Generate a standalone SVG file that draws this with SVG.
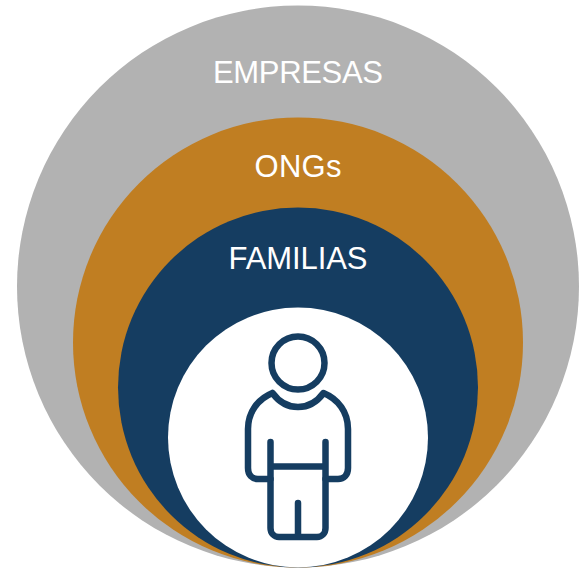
<svg xmlns="http://www.w3.org/2000/svg" width="580" height="568" viewBox="0 0 580 568">
<style>
.l{font-family:"Liberation Sans",Arial,sans-serif;font-size:31px;fill:#fff;text-anchor:middle}
.i{fill:none;stroke:#153d61;stroke-width:6.500;stroke-linecap:round;stroke-linejoin:round}
</style>
<rect width="580" height="568" fill="#fff"/>
<g id="empresas"><circle cx="298" cy="286.500" r="281" fill="#b2b2b2"/><text class="l" x="298" y="83" textLength="170">EMPRESAS</text></g>
<g id="ongs"><circle cx="298" cy="342.500" r="225" fill="#c07e22"/><text class="l" x="298" y="177" textLength="87">ONGs</text></g>
<g id="familias"><circle cx="298" cy="387.500" r="180" fill="#153d61"/><text class="l" x="298" y="268.500" textLength="139">FAMILIAS</text></g>
<g id="persona"><circle cx="298" cy="437.500" r="130" fill="#fff"/>
<circle class="i" cx="298" cy="363" r="26.500"/>
<path class="i" d="M272.500 393C279 402 288 407 298 407C308 407 317 402 323.500 393C338 399 348 412 348 429V468C348 475 344 479 338 479H325.500M270.500 479H258C252 479 248 475 248 468V429C248 412 258 399 272.500 393"/>
<path class="i" d="M270.500 442V528C270.500 533 274 537 279 537H317C322 537 325.500 533 325.500 528V442M270.500 466.500H325.500M298 503V537"/>
</g>
</svg>
